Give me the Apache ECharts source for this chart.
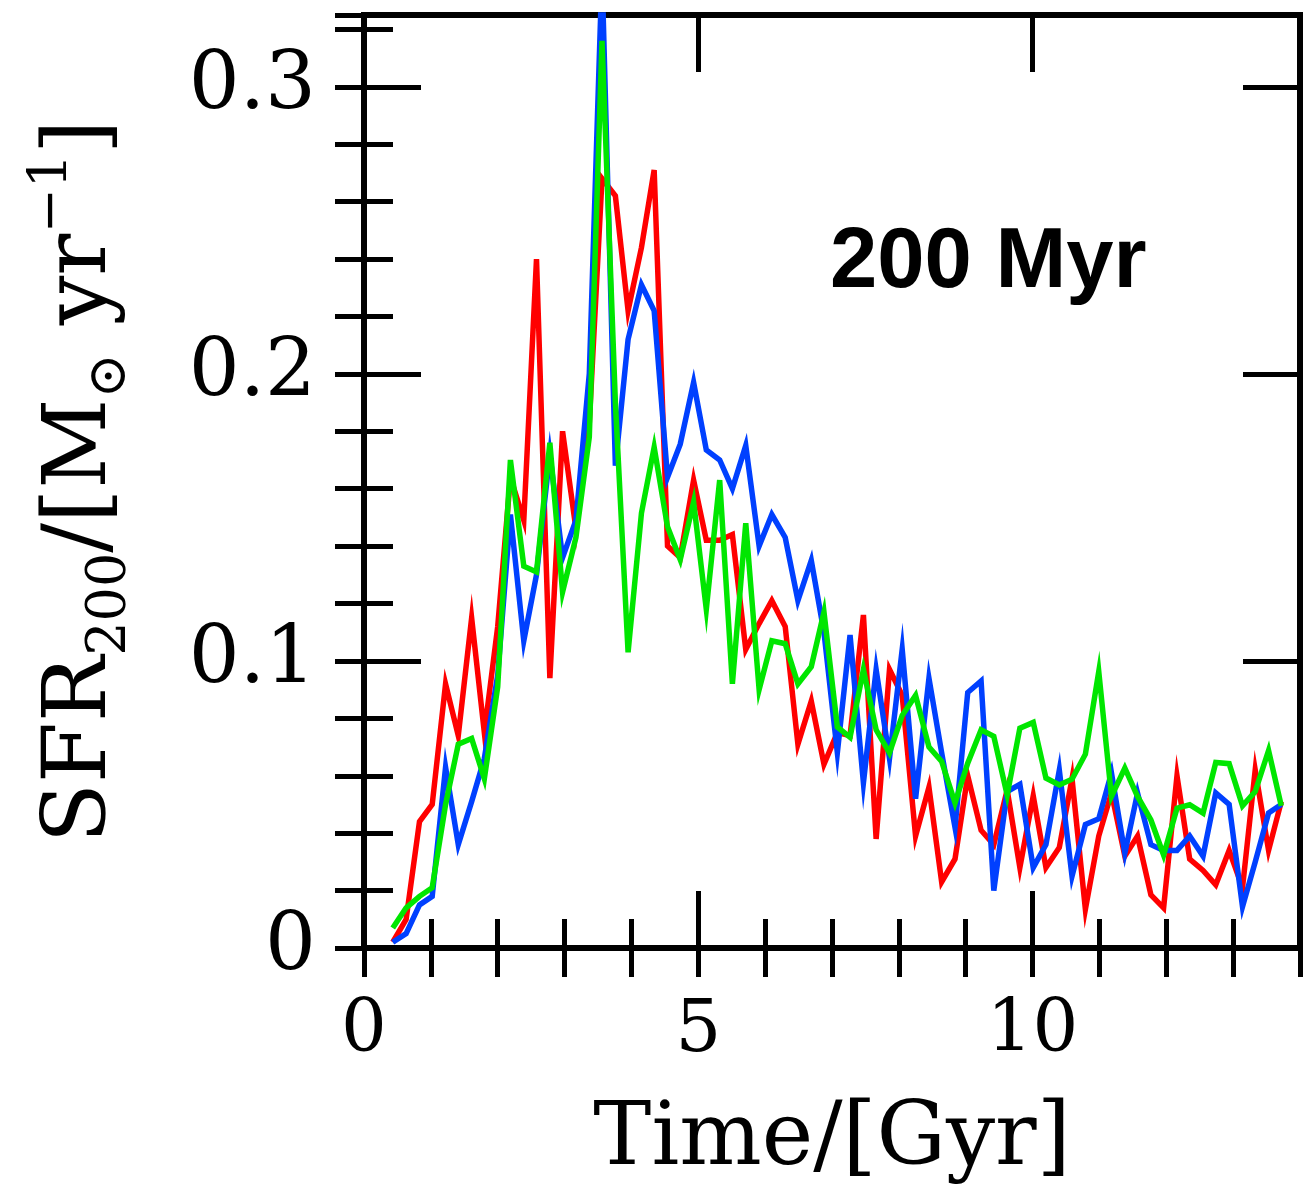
<!DOCTYPE html>
<html>
<head>
<meta charset="utf-8">
<script src="https://cdn.jsdelivr.net/npm/echarts@6/dist/echarts.min.js"></script>
<style>
  html, body { margin: 0; padding: 0; background: #fff; }
  #chart { width: 1303px; height: 1196px; }
</style>
</head>
<body>
<div id="chart"></div>
<script>
// Time of each sample (Gyr)
var times = [0.43, 0.63, 0.83, 1.02, 1.22, 1.41, 1.61, 1.80, 2.00, 2.19,
  2.39, 2.58, 2.78, 2.97, 3.17, 3.37, 3.56, 3.76, 3.95, 4.15,
  4.34, 4.54, 4.73, 4.93, 5.12, 5.32, 5.51, 5.71, 5.91, 6.10,
  6.30, 6.49, 6.69, 6.88, 7.08, 7.27, 7.47, 7.66, 7.86, 8.05,
  8.25, 8.45, 8.64, 8.84, 9.03, 9.23, 9.42, 9.62, 9.81, 10.01,
  10.20, 10.40, 10.59, 10.79, 10.99, 11.18, 11.38, 11.57, 11.77, 11.96,
  12.16, 12.35, 12.55, 12.74, 12.94, 13.14, 13.33, 13.53, 13.72];

var sfrRed = [0.002, 0.010, 0.044, 0.050, 0.092, 0.074, 0.115, 0.075, 0.112, 0.164,
  0.149, 0.240, 0.094, 0.180, 0.146, 0.183, 0.268, 0.262, 0.222, 0.244,
  0.271, 0.140, 0.136, 0.163, 0.142, 0.142, 0.144, 0.104, 0.113, 0.121,
  0.112, 0.071, 0.086, 0.064, 0.075, 0.074, 0.116, 0.038, 0.097, 0.088,
  0.039, 0.056, 0.023, 0.031, 0.060, 0.041, 0.036, 0.055, 0.028, 0.053,
  0.028, 0.035, 0.059, 0.0135, 0.039, 0.054, 0.032, 0.039, 0.0185, 0.014,
  0.060, 0.031, 0.027, 0.022, 0.034, 0.021, 0.062, 0.034, 0.051];

var sfrBlue = [0.002, 0.005, 0.015, 0.018, 0.063, 0.036, 0.051, 0.066, 0.095, 0.151,
  0.107, 0.130, 0.172, 0.136, 0.149, 0.200, 0.340, 0.168, 0.212, 0.231,
  0.222, 0.164, 0.1755, 0.197, 0.1735, 0.170, 0.160, 0.175, 0.140, 0.151,
  0.143, 0.121, 0.135, 0.110, 0.068, 0.109, 0.0575, 0.097, 0.066, 0.104,
  0.052, 0.094, 0.068, 0.042, 0.089, 0.093, 0.020, 0.0545, 0.057, 0.028,
  0.036, 0.062, 0.025, 0.043, 0.045, 0.061, 0.033, 0.054, 0.036, 0.034,
  0.034, 0.039, 0.032, 0.054, 0.050, 0.0144, 0.030, 0.047, 0.050];

var sfrGreen = [0.007, 0.014, 0.018, 0.021, 0.050, 0.071, 0.073, 0.059, 0.091, 0.170,
  0.133, 0.131, 0.176, 0.124, 0.143, 0.178, 0.316, 0.190, 0.103, 0.1515,
  0.1744, 0.1467, 0.1353, 0.1554, 0.118, 0.163, 0.092, 0.148, 0.090, 0.107,
  0.106, 0.092, 0.098, 0.117, 0.077, 0.0734, 0.097, 0.076, 0.068, 0.081,
  0.088, 0.070, 0.065, 0.0505, 0.0644, 0.076, 0.0737, 0.0533, 0.0766, 0.0786,
  0.0592, 0.0568, 0.0588, 0.0675, 0.0963, 0.0528, 0.0627, 0.0528, 0.0446, 0.0324,
  0.0487, 0.0499, 0.047, 0.0646, 0.0642, 0.0495, 0.0545, 0.0688, 0.0495];

var xTickLabels = ['0', '5', '10'];
var yTickLabels = ['0', '0.1', '0.2', '0.3'];
var annotation = '200 Myr';

function pairs(ys) {
  var out = [];
  for (var i = 0; i < ys.length; i++) out.push([times[i], ys[i]]);
  return out;
}

var serif = '"DejaVu Serif", "Liberation Serif", serif';
var frameLine = { show: true, onZero: false, lineStyle: { color: '#000', width: 6, cap: 'square' } };
var noLine = { show: false };
var tickStyle = { color: '#000', width: 5 };

function xFmt(v) {
  var idx = [0, 5, 10].indexOf(Math.round(v * 1000) / 1000);
  return idx >= 0 ? xTickLabels[idx] : '';
}
function yFmt(v) {
  var r = Math.round(v * 10);
  if (Math.abs(v * 10 - r) > 1e-6) return '';
  return yTickLabels[r] || '';
}

function xAx(pos, interval, major) {
  return {
    type: 'value', min: 0, max: 14, interval: interval, position: pos,
    axisLine: major ? frameLine : noLine,
    axisTick: { show: true, inside: true, length: major ? 57 : 29, lineStyle: tickStyle },
    axisLabel: { show: false },
    splitLine: { show: false }
  };
}
function yAx(pos, interval, major) {
  return {
    type: 'value', min: 0, max: 0.325, interval: interval, position: pos,
    axisLine: major ? frameLine : noLine,
    axisTick: { show: true, inside: true, length: major ? 57 : 29, lineStyle: tickStyle },
    axisLabel: { show: false },
    splitLine: { show: false }
  };
}

var xMain = xAx('bottom', 5, true);
xMain.axisLabel = { show: true, formatter: xFmt, fontFamily: serif, fontSize: 72, color: '#000', margin: 48, lineHeight: 72 };
xMain.name = 'Time/[Gyr]';
xMain.nameLocation = 'middle';
xMain.nameGap = 150;
xMain.nameTextStyle = { fontFamily: serif, fontSize: 87, color: '#000', lineHeight: 87 };

var yMain = yAx('left', 0.1, true);
yMain.axisLabel = { show: true, formatter: yFmt, fontFamily: serif, fontSize: 80, color: '#000', margin: 48 };
yMain.name = '{a|SFR}{sub|200}{a|/[M}{sub|\u2299}{a| yr}{sup|\u22121}{a|]}';
yMain.nameLocation = 'middle';
yMain.nameGap = 226;
yMain.nameRotate = 90;
yMain.nameTextStyle = {
  fontFamily: serif, fontSize: 88, color: '#000',
  rich: {
    a: { fontFamily: serif, fontSize: 88, color: '#000', lineHeight: 112 },
    sub: { fontFamily: serif, fontSize: 54, color: '#000', lineHeight: 36, verticalAlign: 'bottom' },
    sup: { fontFamily: serif, fontSize: 54, color: '#000', lineHeight: 80, verticalAlign: 'top' }
  }
};

function lineSeries(name, ys, color) {
  return {
    name: name, type: 'line', data: pairs(ys), xAxisIndex: 0, yAxisIndex: 0,
    showSymbol: false, symbol: 'none', clip: true,
    lineStyle: { color: color, width: 5.5, join: 'miter' },
    itemStyle: { color: color },
    emphasis: { disabled: true }
  };
}

var chart = echarts.init(document.getElementById('chart'), null, { renderer: 'canvas' });
chart.setOption({
  animation: false,
  backgroundColor: '#fff',
  grid: { left: 364, right: 2.5, top: 15, bottom: 248, containLabel: false },
  xAxis: [xMain, xAx('bottom', 1, false), xAx('top', 5, true), xAx('top', 1, false)],
  yAxis: [yMain, yAx('left', 0.02, false), yAx('right', 0.1, true), yAx('right', 0.02, false)],
  series: [
    lineSeries('red', sfrRed, '#ff0000'),
    lineSeries('blue', sfrBlue, '#0040ff'),
    lineSeries('green', sfrGreen, '#00e600')
  ],
  graphic: [{
    type: 'text', left: 830, top: 221, z: 100,
    style: { text: annotation, font: 'bold 85px "Liberation Sans", Arial, sans-serif', fill: '#000' }
  }]
});
</script>
</body>
</html>
